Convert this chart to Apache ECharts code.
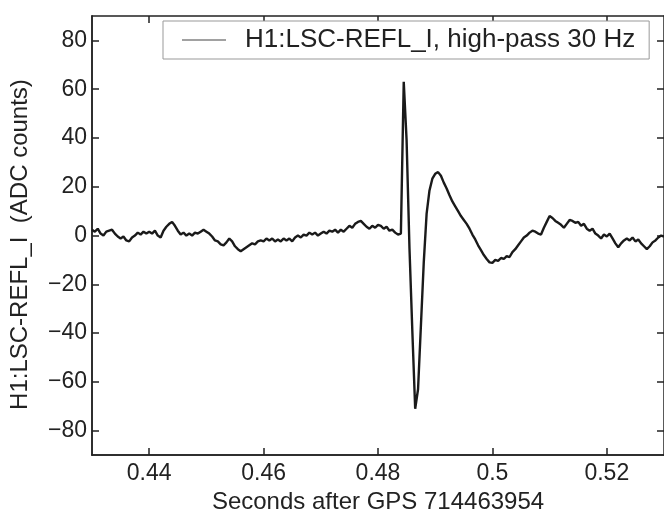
<!DOCTYPE html>
<html>
<head>
<meta charset="utf-8">
<script src="https://cdn.jsdelivr.net/npm/echarts@6/dist/echarts.min.js"></script>
<style>
  html, body { margin: 0; padding: 0; background: #fff; }
  #chart { width: 664px; height: 519px; }
</style>
</head>
<body>
<div id="chart"></div>
<script>
// sampling of the trace (seconds after GPS 714463954)
const t0 = 0.43;
const dt = 0.0005;

// ADC counts
const preEvent = [
  2.4, 1.6, 2.8, 0.8, 0, 1.6, 2, 2.4, 0.8, -0.4,
  -1.2, -0.4, -2, -2.4, -0.8, 0, 1.2, 0.4, 1.6, 0.8,
  1.6, 0.8, 2, 0, -0.8, 2, 3.6, 4.8, 5.6, 4,
  2, 0.4, 1.2, 0, 0.8, 0, 1.2, 0.8, 1.6, 2.4,
  1.6, 0.8, -0.4, -2, -2.4, -3.6, -4, -2.8, -1.2, -2.4,
  -4.4, -5.6, -6.4, -5.6, -4.8, -4, -3.2, -3.6, -2.4, -2,
  -2.4, -1.2, -2, -1.2, -2.4, -1.6, -2.4, -1.2, -2, -1.2,
  -2.4, -0.8, 0, -0.8, 0.4, 0, 1.2, 0.4, 1.2, 0,
  0.8, 1.6, 0.8, 2, 1.6, 2.4, 1.2, 2.4, 1.6, 2.8,
  4, 3.2, 4.8, 5.6, 6, 4.8, 3.6, 2.8, 4, 3.2,
  4.4, 4, 2.8, 3.6, 2, 2.4, 1.2, 0.4
];
const glitch = [0.8, 63, 39, -5, -39, -71, -63, -37, -11, 9, 18.5, 23.3, 25.3, 26];
const ringdown = [
  24.5, 21.7, 19.3, 16.5, 14, 12, 10, 8, 6.4, 4.8,
  2.8, 0.4, -1.6, -4, -6, -8, -9.6, -11, -11.2, -10,
  -10.4, -9.2, -9.6, -8.4, -8.8, -6.8, -5.6, -4, -2.4, -0.8,
  0, 1.2, 2, 1.6, 0.8, 0.4, 3.2, 5.6, 8, 7.2,
  6, 5.2, 4.4, 3.2, 4.8, 6.4, 6, 5.2, 5.6, 4,
  4.8, 2.8, 2, 2.8, 0.8, 0, -1.2, 0.4, -0.4, 0.8,
  -1.2, -3.2, -4.8, -3.2, -2, -1.2, -2, -0.8, -2.4, -1.6,
  -3.2, -4.4, -5.6, -4.4, -2.8, -2, -0.8, 0, -0.4
];

const xTicks = [0.44, 0.46, 0.48, 0.5, 0.52];
const yTicks = [-80, -60, -40, -20, 0, 20, 40, 60, 80];
const seriesName = 'H1:LSC-REFL_I, high-pass 30 Hz';

const counts = preEvent.concat(glitch, ringdown);
const trace = counts.map((v, i) => [t0 + i * dt, v]);

const font = "'Liberation Sans', Arial, Helvetica, sans-serif";
const ink = '#222';

const chart = echarts.init(document.getElementById('chart'));

const axisLine = { show: true, onZero: false, lineStyle: { color: ink, width: 1.5 } };

// matlab style box: every side gets inward ticks, drawn by label-less axes
const tickAxis = (pos, min, max, vals) => ({
  type: 'value', min: min, max: max, position: pos,
  axisLine: axisLine,
  axisTick: { show: true, inside: true, length: 7, customValues: vals, lineStyle: { color: ink, width: 1.5 } },
  axisLabel: { show: false, customValues: vals },
  splitLine: { show: false }
});

const options = {
  backgroundColor: '#fff',
  animation: false,
  textStyle: { fontFamily: font },
  grid: { left: 90, right: -2, top: 16, bottom: 54 },
  legend: {
    data: [{ name: seriesName, icon: 'rect' }],
    left: 163,
    top: 21,
    padding: [6, 14, 6, 19],
    itemWidth: 44,
    itemHeight: 1,
    itemStyle: { color: '#444' },
    backgroundColor: '#fff',
    borderColor: '#999',
    borderWidth: 1,
    textStyle: { fontSize: 26, color: ink, fontFamily: font, padding: [0, 0, 0, 14] }
  },
  xAxis: [{
    type: 'value', min: 0.43, max: 0.53, position: 'bottom',
    name: 'Seconds after GPS 714463954',
    nameLocation: 'middle',
    nameGap: 30,
    nameTextStyle: { fontSize: 24, color: ink, fontFamily: font },
    axisLine: axisLine,
    axisTick: { show: false },
    axisLabel: { customValues: xTicks, fontSize: 23, color: ink, margin: 7, fontFamily: font },
    splitLine: { show: false }
  },
    tickAxis('top', 0.43, 0.53, xTicks),
    tickAxis('bottom', 0.43, 0.53, xTicks)
  ],
  yAxis: [{
    type: 'value', min: -90, max: 90, position: 'left',
    name: 'H1:LSC-REFL_I  (ADC counts)',
    nameLocation: 'middle',
    nameGap: 60,
    nameRotate: 90,
    nameTextStyle: { fontSize: 24, color: ink, fontFamily: font, padding: [0, 18, 0, 0] },
    axisLine: axisLine,
    axisTick: { show: false },
    axisLabel: {
      customValues: yTicks, fontSize: 23, color: ink, margin: 5, fontFamily: font,
      formatter: v => String(v).replace('-', '\u2212')
    },
    splitLine: { show: false }
  },
    tickAxis('right', -90, 90, yTicks),
    tickAxis('left', -90, 90, yTicks)
  ],
  series: [{
    name: seriesName,
    type: 'line',
    data: trace,
    symbol: 'none',
    clip: true,
    lineStyle: { color: '#1a1a1a', width: 2.4 },
    itemStyle: { color: '#1a1a1a' }
  }]
};

chart.setOption(options);
</script>
</body>
</html>
